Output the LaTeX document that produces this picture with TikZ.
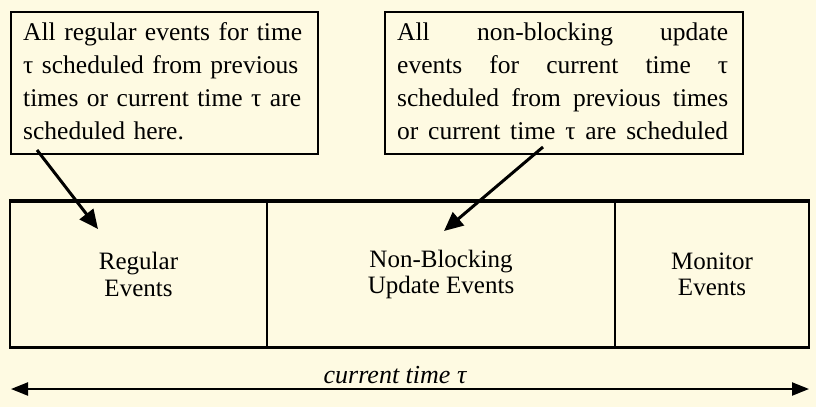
\documentclass[tikz,border=0pt]{standalone}
\usepackage{fontspec}
\setmainfont{Liberation Serif}
\usetikzlibrary{arrows.meta}
\definecolor{bgcream}{RGB}{254,250,226}
\tikzset{
  callout/.style={draw=black, line width=1.4pt, inner sep=0pt},
  callouttext/.style={anchor=north west, inner sep=0pt, text width=#1, font=\fontsize{25.5}{33}\selectfont},
  seg/.style={draw=black, line width=1.6pt, minimum height=145pt, inner sep=0pt, font=\fontsize{25}{26.5}\selectfont, align=center},
  bigarrow/.style={line width=3pt, -{Triangle[width=17pt,length=19pt]}},
  timearrow/.style={line width=2.2pt, {Triangle[width=13pt,length=17pt]}-{Triangle[width=13pt,length=17pt]}}
}
\begin{document}
\begin{tikzpicture}[x=1pt,y=-1pt]
\useasboundingbox (0,0) rectangle (816,407);
\fill[bgcream] (0,0) rectangle (816,407);

% callout boxes
\node[callout, minimum width=307pt, minimum height=142pt] (c1) at (164.5,83) {};
\node[callouttext=290pt, align=left] (t1) at (23,22.5) {All regular events for time\\ τ scheduled from previous\\ times or current time τ are\\ scheduled here.};

\node[callout, minimum width=358pt, minimum height=142pt] (c2) at (564,83) {};
\node[callouttext=331pt, align=justify] (t2) at (397,22.5) {All non-blocking update\linebreak events for current time τ\linebreak scheduled from previous times\linebreak or current time τ are scheduled\parfillskip=0pt\par};

% event segments
\node[seg, minimum width=257pt] (reg) at (138.5,274.5) {Regular\\Events};
\node[seg, minimum width=348pt] (nba) at (441,274.5) {Non-Blocking\\Update Events};
\node[seg, minimum width=194pt] (mon) at (712,274.5) {Monitor\\Events};
\draw[line width=4pt] (reg.north west) -- (mon.north east);
\draw[line width=3pt] (reg.south west) -- (mon.south east);

% callout arrows
\coordinate (a1s) at (37,150);
\coordinate (a1e) at (98,229);
\coordinate (a2s) at (543,147);
\coordinate (a2e) at (444,231);
\draw[bigarrow] (a1s) -- (a1e);
\draw[bigarrow] (a2s) -- (a2e);

% time axis
\coordinate (tl) at (11,389);
\coordinate (tr) at (809,389);
\draw[timearrow] (tl) -- (tr);
\node[font=\fontsize{26}{30}\selectfont\itshape, anchor=base] (tlabel) at (395,383) {current time τ};
\end{tikzpicture}
\end{document}
